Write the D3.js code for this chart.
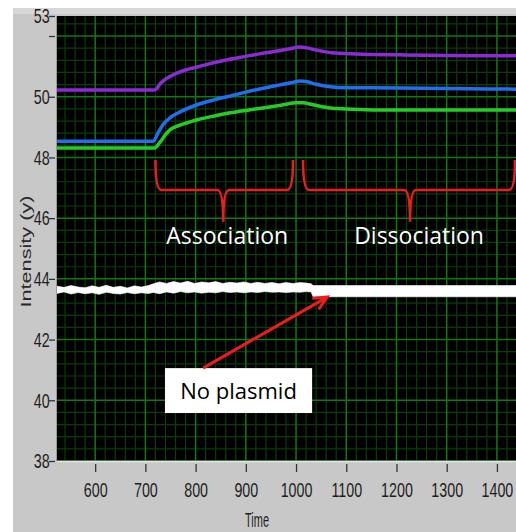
<!DOCTYPE html>
<html>
<head>
<meta charset="utf-8">
<script src="https://cdn.jsdelivr.net/npm/d3@7"></script>
<style>
  html, body { margin: 0; padding: 0; background: #fff; }
  svg { display: block; }
</style>
</head>
<body>
<svg id="chart"></svg>
<script>
// --- data ---
const xTicks = [600, 700, 800, 900, 1000, 1100, 1200, 1300, 1400];
const yTicks = [38, 40, 42, 44, 46, 48, 50, 52];
const yTopLabel = "53";

const purpleT = [524, 715, 722, 729, 740, 759, 780, 803, 830, 863, 900, 930, 960, 985, 1008, 1022, 1040, 1070, 1120, 1208, 1300, 1438];
const purpleV = [50.22, 50.22, 50.26, 50.42, 50.58, 50.75, 50.88, 50.98, 51.10, 51.22, 51.33, 51.42, 51.50, 51.57, 51.64, 51.61, 51.54, 51.45, 51.41, 51.38, 51.36, 51.35];

const blueT = [524, 715, 725, 735, 750, 769, 800, 835, 870, 902, 935, 968, 995, 1008, 1020, 1040, 1068, 1100, 1208, 1300, 1438];
const blueV = [48.53, 48.53, 48.80, 49.08, 49.32, 49.50, 49.72, 49.89, 50.03, 50.16, 50.28, 50.39, 50.48, 50.52, 50.50, 50.41, 50.33, 50.30, 50.29, 50.27, 50.25];

const greenT = [524, 718, 730, 740, 749, 770, 803, 835, 869, 900, 934, 970, 1002, 1014, 1030, 1050, 1068, 1100, 1207, 1300, 1438];
const greenV = [48.31, 48.31, 48.52, 48.75, 48.91, 49.07, 49.24, 49.36, 49.47, 49.55, 49.63, 49.72, 49.80, 49.80, 49.75, 49.68, 49.63, 49.60, 49.56, 49.56, 49.56];

// no-plasmid trace: upper / lower edge of the noisy band
const whiteT  = [524, 538, 552, 566, 580, 594, 608, 622, 636, 650, 664, 678, 692, 706, 716, 728, 742, 756, 770, 784, 798, 812, 826, 840, 854, 868, 882, 896, 910, 924, 938, 952, 966, 980, 994, 1008, 1020, 1030, 1034, 1060, 1120, 1200, 1300, 1438];
const whiteHi = [43.76, 43.72, 43.78, 43.73, 43.71, 43.77, 43.72, 43.79, 43.72, 43.76, 43.70, 43.77, 43.73, 43.78, 43.84, 43.90, 43.85, 43.91, 43.86, 43.92, 43.85, 43.90, 43.87, 43.91, 43.85, 43.89, 43.86, 43.90, 43.85, 43.89, 43.85, 43.88, 43.84, 43.88, 43.85, 43.88, 43.86, 43.84, 43.78, 43.78, 43.78, 43.78, 43.78, 43.78];
const whiteLo = [43.52, 43.57, 43.50, 43.55, 43.51, 43.54, 43.49, 43.56, 43.52, 43.50, 43.55, 43.51, 43.54, 43.52, 43.55, 43.51, 43.57, 43.53, 43.58, 43.54, 43.57, 43.53, 43.56, 43.54, 43.58, 43.55, 43.57, 43.54, 43.57, 43.55, 43.58, 43.56, 43.57, 43.55, 43.57, 43.56, 43.58, 43.57, 43.41, 43.41, 43.41, 43.41, 43.41, 43.41];

// annotations (data units)
const braceAssoc = [720, 994, 855];      // start, end, middle time
const braceDissoc = [1014, 1436, 1227];
const braceLevels = [47.92, 46.93, 45.88]; // top of arms, bar, tip
const phaseLabels = ["Association", "Dissociation"];
const phaseLabelT = [863, 1245];
const noteLabel = "No plasmid";
const arrowFrom = [815, 41.06];
const arrowTo = [1062, 43.40];

// --- layout ---
const W = 516, H = 532;
const plot = { left: 57, right: 516, top: 16, bottom: 461 };
const xMin = 524, xMax = 1438, yMin = 38, yMax = 52.66;

const svg = d3.select("#chart").attr("width", W).attr("height", H);

// panel
svg.append("rect").attr("x", 13).attr("y", 8).attr("width", W - 13).attr("height", H - 8).attr("fill", "#c8c8c8");
svg.append("rect").attr("x", 13).attr("y", 8).attr("width", W - 13).attr("height", 6).attr("fill", "#d6d6d6");

const x = d3.scaleLinear().domain([xMin, xMax]).range([plot.left, plot.right]);
const y = d3.scaleLinear().domain([yMin, yMax]).range([plot.bottom, plot.top]);

svg.append("rect")
  .attr("x", plot.left).attr("y", plot.top)
  .attr("width", plot.right - plot.left).attr("height", plot.bottom - plot.top)
  .attr("fill", "#000");

svg.append("clipPath").attr("id", "plotclip").append("rect")
  .attr("x", plot.left).attr("y", plot.top)
  .attr("width", plot.right - plot.left).attr("height", plot.bottom - plot.top);

const g = svg.append("g").attr("clip-path", "url(#plotclip)");

// grid: minor first, then major
const minorX = d3.range(540, xMax, 20).filter(v => v % 100 !== 0);
const minorY = d3.range(38.4, yMax, 0.4).filter(v => Math.abs(v / 2 - Math.round(v / 2)) > 0.01);
g.selectAll(".gx-minor").data(minorX).enter().append("line")
  .attr("x1", d => x(d)).attr("x2", d => x(d))
  .attr("y1", plot.top).attr("y2", plot.bottom)
  .attr("stroke", "#0a3d0a").attr("stroke-width", 1.2);
g.selectAll(".gy-minor").data(minorY).enter().append("line")
  .attr("y1", d => y(d)).attr("y2", d => y(d))
  .attr("x1", plot.left).attr("x2", plot.right)
  .attr("stroke", "#0a3d0a").attr("stroke-width", 1.2);
g.selectAll(".gx-major").data(xTicks).enter().append("line")
  .attr("x1", d => x(d)).attr("x2", d => x(d))
  .attr("y1", plot.top).attr("y2", plot.bottom)
  .attr("stroke", "#107a10").attr("stroke-width", 1.5);
g.selectAll(".gy-major").data(yTicks).enter().append("line")
  .attr("y1", d => y(d)).attr("y2", d => y(d))
  .attr("x1", plot.left).attr("x2", plot.right)
  .attr("stroke", "#107a10").attr("stroke-width", 1.5);

// traces
const series = [
  { t: purpleT, v: purpleV, color: "#8c2ad6" },
  { t: blueT, v: blueV, color: "#1f6ff0" },
  { t: greenT, v: greenV, color: "#26cc26" }
];
const line = d3.line().x(d => x(d[0])).y(d => y(d[1])).curve(d3.curveMonotoneX);
series.forEach(s => {
  g.append("path")
    .datum(s.t.map((t, i) => [t, s.v[i]]))
    .attr("d", line)
    .attr("fill", "none")
    .attr("stroke", s.color)
    .attr("stroke-width", 3.5);
});

const band = d3.area()
  .x(d => x(d.t)).y0(d => y(d.lo)).y1(d => y(d.hi))
  .curve(d3.curveLinear);
g.append("path")
  .datum(whiteT.map((t, i) => ({ t, hi: whiteHi[i], lo: whiteLo[i] })))
  .attr("d", band)
  .attr("fill", "#ffffff")
  .attr("stroke", "#ffffff")
  .attr("stroke-width", 0.6);

// braces
const red = "#ee1c1c";
function brace(b) {
  const x0 = x(b[0]), x1 = x(b[1]), xm = x(b[2]);
  const yt = y(braceLevels[0]), yb = y(braceLevels[1]), ytip = y(braceLevels[2]);
  const r = 6;
  return `M${x0},${yt} Q${x0},${yb} ${x0 + r},${yb} L${xm - r},${yb} Q${xm},${yb} ${xm},${ytip} ` +
         `Q${xm},${yb} ${xm + r},${yb} L${x1 - r},${yb} Q${x1},${yb} ${x1},${yt}`;
}
[braceAssoc, braceDissoc].forEach((b, i) => {
  g.append("path").attr("d", brace(b)).attr("fill", "none")
    .attr("stroke", red).attr("stroke-width", 2.6);
  g.append("text")
    .attr("x", x(phaseLabelT[i]))
    .attr("y", y(braceLevels[2]) + 22)
    .attr("text-anchor", "middle")
    .attr("fill", "#ffffff")
    .style("font-family", "'Open Sans', 'Noto Sans', sans-serif")
    .style("font-size", "23px")
    .text(phaseLabels[i]);
});

// note box + arrow
const boxT = [739, 1032], boxV = [41.06, 39.58];
g.append("rect")
  .attr("x", x(boxT[0])).attr("y", y(boxV[0]))
  .attr("width", x(boxT[1]) - x(boxT[0])).attr("height", y(boxV[1]) - y(boxV[0]))
  .attr("fill", "#ffffff");
g.append("text")
  .attr("x", x((boxT[0] + boxT[1]) / 2)).attr("y", y((boxV[0] + boxV[1]) / 2) + 8)
  .attr("text-anchor", "middle")
  .attr("fill", "#000")
  .style("font-family", "'Open Sans', 'Noto Sans', sans-serif")
  .style("font-size", "22px")
  .text(noteLabel);

const ax0 = x(arrowFrom[0]), ay0 = y(arrowFrom[1]);
const ax1 = x(arrowTo[0]), ay1 = y(arrowTo[1]);
g.append("line")
  .attr("x1", ax0).attr("y1", ay0).attr("x2", ax1).attr("y2", ay1)
  .attr("stroke", red).attr("stroke-width", 3);
const ang = Math.atan2(ay1 - ay0, ax1 - ax0);
const hl = 15, spread = 0.45;
g.append("path")
  .attr("d", `M${ax1 - hl * Math.cos(ang - spread)},${ay1 - hl * Math.sin(ang - spread)} L${ax1},${ay1} ` +
             `L${ax1 - hl * Math.cos(ang + spread)},${ay1 - hl * Math.sin(ang + spread)}`)
  .attr("fill", "none").attr("stroke", red).attr("stroke-width", 3)
  .attr("stroke-linejoin", "miter");

// axes
const tickFont = "'Liberation Sans Narrow', 'Liberation Sans', sans-serif";
const yAxis = svg.append("g")
  .attr("transform", `translate(${plot.left - 2},0)`)
  .call(d3.axisLeft(y).tickValues(yTicks.concat([yMax])).tickSize(6).tickPadding(2)
    .tickFormat(d => d === yMax ? yTopLabel : (d === 52 ? "" : d)));
const xAxis = svg.append("g")
  .attr("transform", `translate(0,${plot.bottom + 3})`)
  .call(d3.axisBottom(x).tickValues(xTicks).tickSize(8).tickPadding(10).tickFormat(d3.format("d")));

[yAxis, xAxis].forEach(ax => {
  ax.select(".domain").remove();
  ax.selectAll("line").attr("stroke", "#333").attr("stroke-width", 1.3);
  ax.selectAll("text")
    .attr("fill", "#1e1e1e")
    .style("font-family", tickFont)
    .style("font-size", "21px")
    .attr("transform", "scale(0.68,1)");
});

// plot edges
svg.append("line").attr("x1", plot.left).attr("x2", plot.right)
  .attr("y1", plot.bottom + 0.5).attr("y2", plot.bottom + 0.5)
  .attr("stroke", "#e4e4e4").attr("stroke-width", 1.5);
svg.append("line").attr("x1", plot.left - 0.5).attr("x2", plot.left - 0.5)
  .attr("y1", plot.top).attr("y2", plot.bottom)
  .attr("stroke", "#9a9a9a").attr("stroke-width", 1);

// axis titles
svg.append("text")
  .attr("x", x(1000) - 39).attr("y", 527)
  .attr("text-anchor", "middle")
  .attr("fill", "#1e1e1e")
  .style("font-family", tickFont)
  .style("font-size", "21px")
  .attr("textLength", 24).attr("lengthAdjust", "spacingAndGlyphs")
  .text("Time");

svg.append("text")
  .attr("transform", `translate(31,${y(44.9)}) rotate(-90)`)
  .attr("text-anchor", "middle")
  .attr("fill", "#2a2a2a")
  .style("font-family", "'Liberation Sans', sans-serif")
  .style("font-size", "15px")
  .attr("textLength", 112).attr("lengthAdjust", "spacingAndGlyphs")
  .text("Intensity (y)");
</script>
</body>
</html>
